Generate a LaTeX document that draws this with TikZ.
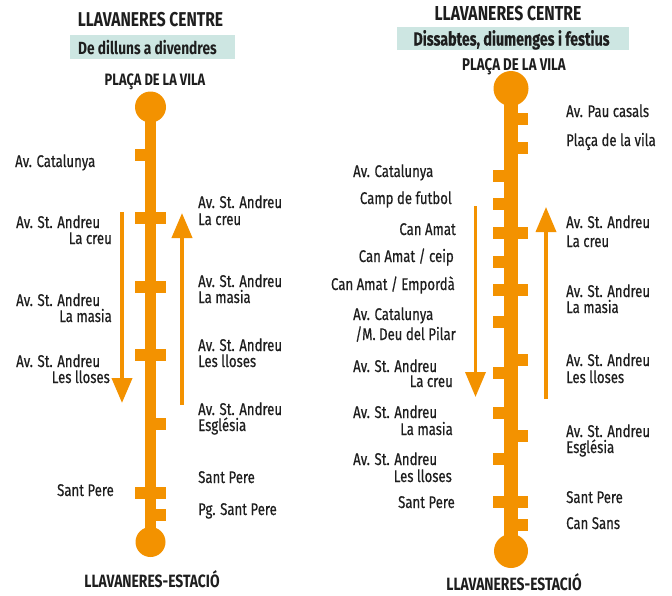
\documentclass[tikz,border=0pt]{standalone}
\usepackage{fontspec}
\setmainfont{Fira Sans}[FakeStretch=0.78]
\newfontfamily\lblfont{Fira Sans}[FakeStretch=0.78,FakeBold=0.5]
\newfontfamily\subfont{Fira Sans}[FakeStretch=0.75,FakeBold=0.3]
\usetikzlibrary{arrows.meta}
\definecolor{busor}{HTML}{F39200}
\definecolor{boxteal}{HTML}{CDE6E2}
\definecolor{txt}{HTML}{1E1E1E}
\begin{document}
\begin{tikzpicture}[x=1pt,y=-1pt,
  lbl/.style={inner sep=0pt,anchor=base west,text=txt,font=\lblfont\fontsize{16.9}{19}\selectfont},
  lblr/.style={lbl,anchor=base east},
  hdr/.style={inner sep=0pt,anchor=base,text=txt,font=\fontsize{20}{22}\selectfont\bfseries},
  hdrs/.style={inner sep=0pt,anchor=base,text=txt,font=\fontsize{17}{19}\selectfont\bfseries},
  stopc/.style={circle,fill=busor,inner sep=0pt},
  route/.style={draw=busor,shorten <=-3pt,shorten >=-3pt},
  dirarrow/.style={draw=busor,-{Triangle[width=20pt,length=25pt]}},
  tick/.style={fill=busor}]
\useasboundingbox (0,0) rectangle (672,595);

% ===== LEFT DIAGRAM =====
\fill[boxteal] (70,35) rectangle (235,59);
\node[hdr] (t1) at (150.5,26) {LLAVANERES CENTRE};
\node[hdrs,font=\fontsize{17.6}{19}\selectfont\bfseries] (s1) at (147.5,54) {De dilluns a divendres};
\node[hdrs,font=\fontsize{16.5}{19}\selectfont\bfseries] (p1) at (155,85) {PLAÇA DE LA VILA};
\node[hdrs,font=\fontsize{17.8}{19}\selectfont\bfseries] (e1) at (152,587) {LLAVANERES-ESTACIÓ};
\node[stopc,minimum size=31pt] (lt) at (150.5,107) {};
\node[stopc,minimum size=30pt] (lb) at (150.5,542) {};
\draw[route,line width=11pt] (lt.south) -- (lb.north);
% ticks: y, left x, right x
\foreach \y/\a/\b in {155/134.5/150, 217.5/134.5/166, 287/134.5/166, 355/134.5/166,
  424/150/166, 492.5/134.5/166, 515/150/166}
  \fill[busor] (\a,\y-6) rectangle (\b,\y+6);
\coordinate (d1s) at (122,212); \coordinate (d1e) at (122,403);
\coordinate (u1s) at (182,405); \coordinate (u1e) at (182,213);
\draw[dirarrow,line width=4pt] (d1s) -- (d1e);
\draw[dirarrow,line width=4pt] (u1s) -- (u1e);
% left labels
\node[lbl] (l1) at (15,167) {Av. Catalunya};
\node[lbl] (l2a) at (16,228) {Av. St. Andreu};
\node[lblr] (l2b) at (112,244) {La creu};
\node[lbl] (l3a) at (16,306) {Av. St. Andreu};
\node[lblr] (l3b) at (112,322) {La masia};
\node[lbl] (l4a) at (16,367) {Av. St. Andreu};
\node[lblr] (l4b) at (110,383) {Les lloses};
\node[lblr] (l5) at (114,496) {Sant Pere};
% right labels
\node[lbl] (r1a) at (198,208) {Av. St. Andreu};
\node[lbl] (r1b) at (198,225) {La creu};
\node[lbl] (r2a) at (198,287) {Av. St. Andreu};
\node[lbl] (r2b) at (198,303) {La masia};
\node[lbl] (r3a) at (198,351) {Av. St. Andreu};
\node[lbl] (r3b) at (198,367) {Les lloses};
\node[lbl] (r4a) at (198,415) {Av. St. Andreu};
\node[lbl] (r4b) at (198,431) {Església};
\node[lbl] (r5) at (198,483) {Sant Pere};
\node[lbl] (r6) at (198,515) {Pg. Sant Pere};

% ===== RIGHT DIAGRAM =====
\fill[boxteal] (397,27) rectangle (629,50);
\node[hdr,font=\fontsize{20.2}{22}\selectfont\bfseries] (t2) at (508,20) {LLAVANERES CENTRE};
\node[hdrs,font=\subfont\fontsize{19}{21}\selectfont\bfseries] (s2) at (511.5,45.5) {Dissabtes, diumenges i festius};
\node[hdrs] (p2) at (514,70) {PLAÇA DE LA VILA};
\node[hdrs,font=\fontsize{17.8}{19}\selectfont\bfseries] (e2) at (514,590) {LLAVANERES-ESTACIÓ};
\node[stopc,minimum size=35pt] (rt) at (511,88.5) {};
\node[stopc,minimum size=34pt] (rb) at (511,551) {};
\draw[route,line width=14pt] (rt.south) -- (rb.north);
\foreach \y/\a/\b in {119/511/528, 147.5/511/528, 176/493/511, 204/493/511,
  232.5/493/528, 262/493/511, 290/493/528, 321.5/493/511, 360/511/528,
  373/493/511, 412.5/493/511, 436/511/528, 459/493/511, 502/493/528, 524.5/511/528}
  \fill[busor] (\a,\y-6) rectangle (\b,\y+6);
\coordinate (d2s) at (475.5,206); \coordinate (d2e) at (475.5,397);
\coordinate (u2s) at (546,399); \coordinate (u2e) at (546,207);
\draw[dirarrow,line width=3.5pt] (d2s) -- (d2e);
\draw[dirarrow,line width=3.5pt] (u2s) -- (u2e);
% right labels
\node[lbl] (q1) at (566,117) {Av. Pau casals};
\node[lbl] (q2) at (566,146) {Plaça de la vila};
\node[lbl] (q3a) at (566,228) {Av. St. Andreu};
\node[lbl] (q3b) at (566,247) {La creu};
\node[lbl] (q4a) at (566,297) {Av. St. Andreu};
\node[lbl] (q4b) at (566,313) {La masia};
\node[lbl] (q5a) at (566,366) {Av. St. Andreu};
\node[lbl] (q5b) at (566,383) {Les lloses};
\node[lbl] (q6a) at (566,437) {Av. St. Andreu};
\node[lbl] (q6b) at (566,453) {Església};
\node[lbl] (q7) at (566,503) {Sant Pere};
\node[lbl] (q8) at (566,529) {Can Sans};
% left labels
\node[lbl] (m1) at (353,177) {Av. Catalunya};
\node[lblr] (m2) at (452,204) {Camp de futbol};
\node[lblr] (m3) at (456,235) {Can Amat};
\node[lblr] (m4) at (454,262) {Can Amat / ceip};
\node[lblr] (m5) at (455,290) {Can Amat / Empordà};
\node[lbl] (m6a) at (353,320) {Av. Catalunya};
\node[lblr] (m6b) at (456,340) {/M. Deu del Pilar};
\node[lbl] (m7a) at (353,372) {Av. St. Andreu};
\node[lblr] (m7b) at (453,387) {La creu};
\node[lbl] (m8a) at (353,418) {Av. St. Andreu};
\node[lblr] (m8b) at (453,435) {La masia};
\node[lbl] (m9a) at (353,465) {Av. St. Andreu};
\node[lblr] (m9b) at (452,482) {Les lloses};
\node[lblr] (m10) at (455,508) {Sant Pere};
\end{tikzpicture}
\end{document}
